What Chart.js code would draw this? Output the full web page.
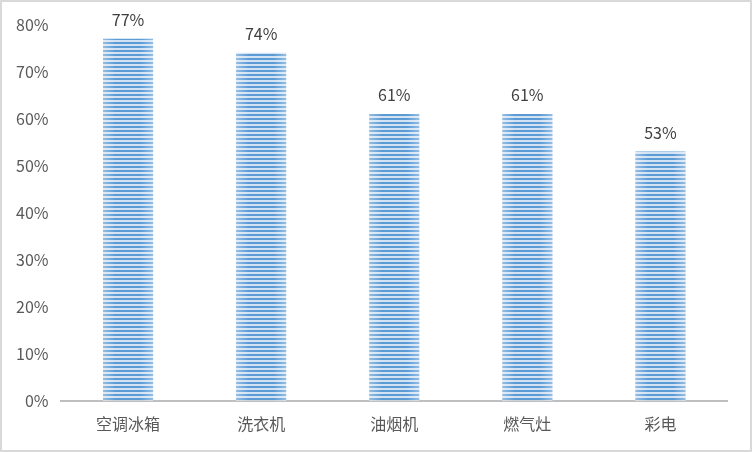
<!DOCTYPE html>
<html>
<head>
<meta charset="utf-8">
<script src="https://cdn.jsdelivr.net/npm/chart.js@4/dist/chart.umd.min.js"></script>
<style>
  html, body { margin: 0; padding: 0; background: #fff; }
  #wrap { width: 752px; height: 452px; box-sizing: border-box; border: 2px solid #D9D9D9; }
</style>
</head>
<body>
<div id="wrap"><canvas id="chart" width="748" height="448"></canvas></div>
<script>
const categories = ['空调冰箱', '洗衣机', '油烟机', '燃气灶', '彩电'];
const values = [77, 74, 61, 61, 53];
const yTicks = [0, 10, 20, 30, 40, 50, 60, 70, 80];

const FONT = "'Noto Sans CJK SC', 'Noto Sans', sans-serif";

function stripePattern() {
    const c = document.createElement('canvas');
    c.width = 4;
    c.height = 4;
    const ctx = c.getContext('2d');
    ctx.fillStyle = '#5B9BD5';
    ctx.fillRect(0, 0, 4, 2);
    ctx.fillStyle = '#D3E2F3';
    ctx.fillRect(0, 2, 4, 2);
    return ctx.createPattern(c, 'repeat');
}

// soft light edges on each bar plus the value labels above
const barDecor = {
    id: 'barDecor',
    afterDatasetsDraw(chart) {
        const ctx = chart.ctx;
        const meta = chart.getDatasetMeta(0);
        ctx.save();
        meta.data.forEach((bar) => {
            const left = bar.x - bar.width / 2;
            const right = bar.x + bar.width / 2;
            const g = ctx.createLinearGradient(left, 0, right, 0);
            g.addColorStop(0, 'rgba(255,255,255,0.35)');
            g.addColorStop(0.25, 'rgba(255,255,255,0)');
            g.addColorStop(0.75, 'rgba(255,255,255,0)');
            g.addColorStop(1, 'rgba(255,255,255,0.35)');
            ctx.fillStyle = g;
            ctx.fillRect(left, bar.y, bar.width, bar.base - bar.y);
        });
        ctx.font = '16px ' + FONT;
        ctx.fillStyle = '#404040';
        ctx.textAlign = 'center';
        ctx.textBaseline = 'middle';
        meta.data.forEach((bar, i) => {
            ctx.fillText(values[i] + '%', bar.x, bar.y - 19);
        });
        ctx.restore();
    }
};

const ctx = document.getElementById('chart').getContext('2d');
new Chart(ctx, {
    type: 'bar',
    data: {
        labels: categories,
        datasets: [{
            data: values,
            backgroundColor: stripePattern(),
            borderWidth: 0,
            barPercentage: 0.376,
            categoryPercentage: 1
        }]
    },
    options: {
        responsive: false,
        animation: false,
        layout: {
            padding: { top: 16, right: 23, bottom: 2, left: 1 }
        },
        scales: {
            y: {
                min: 0,
                max: 80,
                afterBuildTicks: (axis) => {
                    axis.ticks = yTicks.map(v => ({ value: v }));
                },
                ticks: {
                    color: '#595959',
                    padding: 13,
                    font: { size: 16, family: FONT },
                    callback: (v) => v + '%'
                },
                grid: { display: false, drawTicks: false },
                border: { display: false }
            },
            x: {
                ticks: {
                    color: '#595959',
                    padding: 14,
                    font: { size: 16, family: FONT }
                },
                grid: { display: false, drawTicks: false },
                border: { color: '#BFBFBF', width: 2 }
            }
        },
        plugins: {
            legend: { display: false },
            tooltip: { enabled: false }
        }
    },
    plugins: [barDecor]
});
</script>
</body>
</html>
